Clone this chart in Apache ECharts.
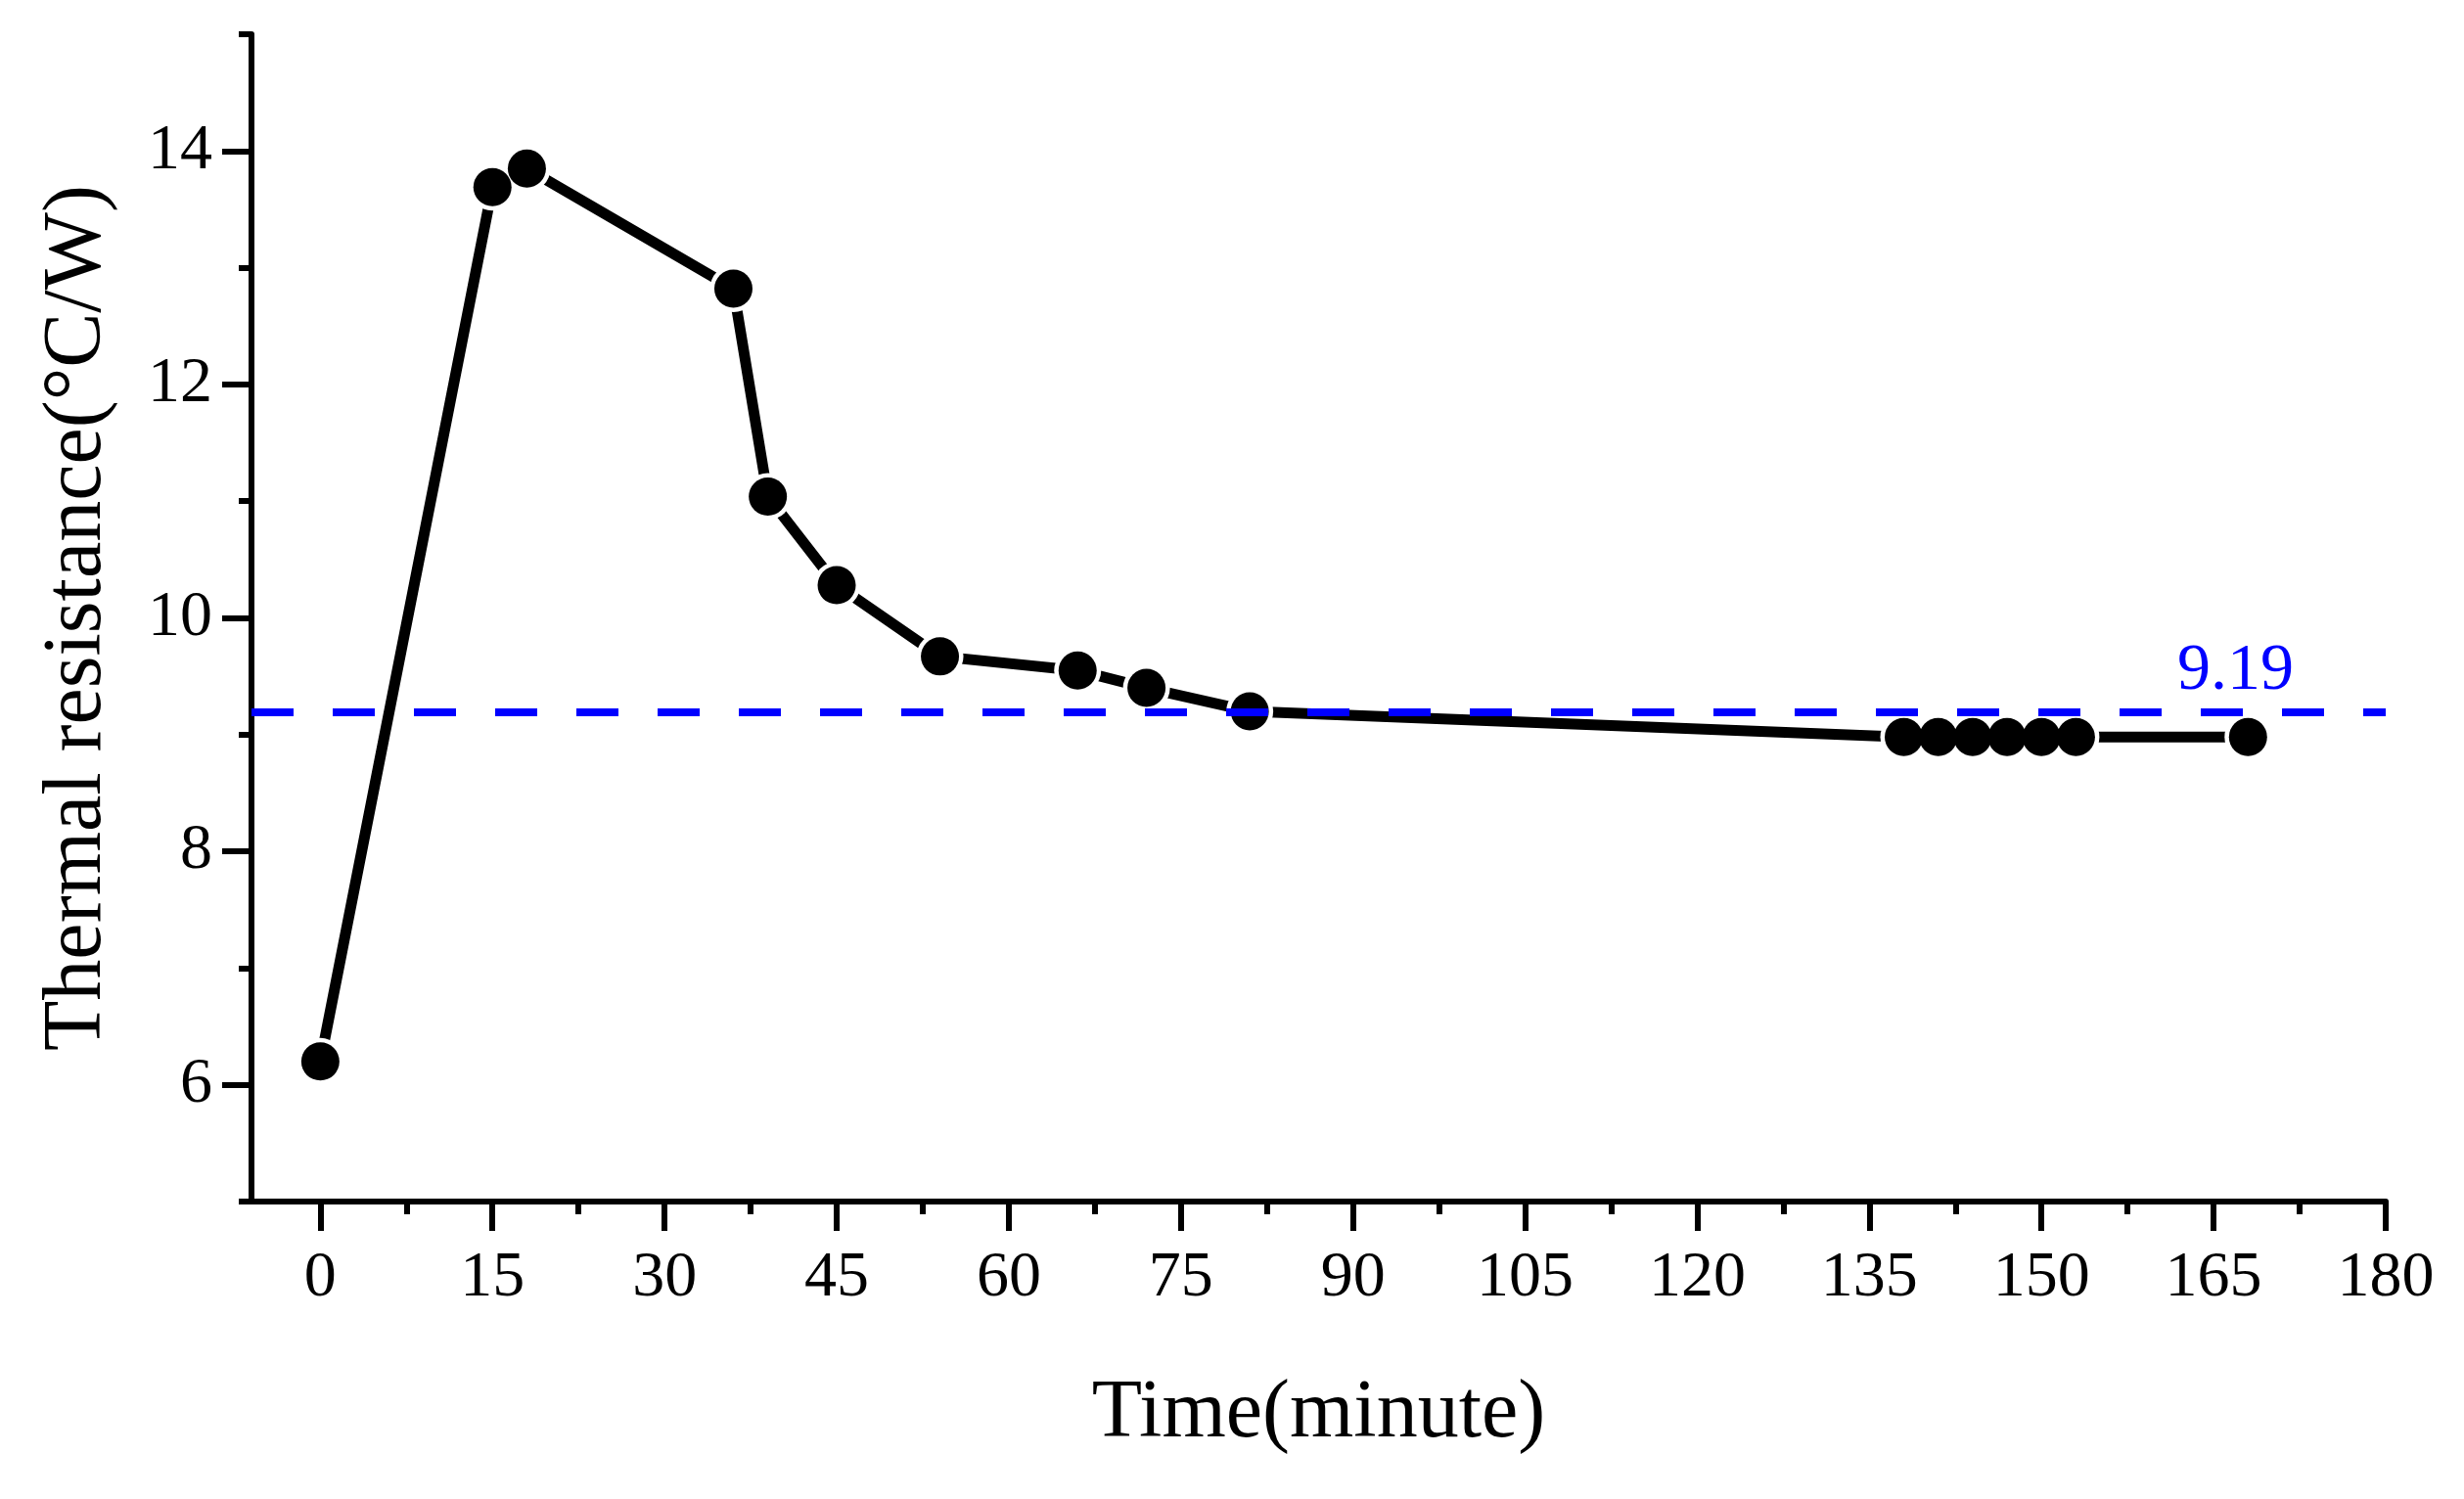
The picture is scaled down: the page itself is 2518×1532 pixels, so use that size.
<!DOCTYPE html>
<html>
<head>
<meta charset="utf-8">
<script src="https://cdn.jsdelivr.net/npm/echarts@6/dist/echarts.min.js"></script>
<style>
  html, body { margin: 0; padding: 0; background: #fff; }
  #chart { width: 2518px; height: 1532px; }
</style>
</head>
<body>
<div id="chart"></div>
<script>
// data
const timeMinutes = [0, 15, 18, 36, 39, 45, 54, 66, 72, 81, 138, 141, 144, 147, 150, 153, 168]
const resistance = [6.20, 13.69, 13.85, 12.82, 11.04, 10.28, 9.67, 9.55, 9.40, 9.20, 8.98, 8.98, 8.98, 8.98, 8.98, 8.98, 8.98]
const steadyValue = 9.19

// ticks
const xMajorTicks = [0, 15, 30, 45, 60, 75, 90, 105, 120, 135, 150, 165, 180]
const xMinorTicks = [7.5, 22.5, 37.5, 52.5, 67.5, 82.5, 97.5, 112.5, 127.5, 142.5, 157.5, 172.5]
const yMajorTicks = [6, 8, 10, 12, 14]
const yMinorTicks = [5, 7, 9, 11, 13, 15]

const font = '"Liberation Serif", "Times New Roman", serif'

const points = timeMinutes.map((t, i) => [t, resistance[i]])

const chart = echarts.init(document.getElementById('chart'))

const axisLine = { show: true, onZero: false, lineStyle: { color: '#000', width: 6 } }

const option = {
    backgroundColor: '#fff',
    animation: false,
    grid: { left: 257, right: 80, top: 35, bottom: 304, containLabel: false },
    xAxis: [
        {
            type: 'value', min: -6, max: 180, position: 'bottom',
            axisLine: axisLine,
            axisTick: { show: true, inside: false, length: 30, customValues: xMajorTicks, lineStyle: { color: '#000', width: 6 } },
            axisLabel: { show: true, customValues: xMajorTicks, margin: 46, color: '#000', fontSize: 66, fontFamily: font },
            splitLine: { show: false },
            name: 'Time(minute)', nameLocation: 'middle', nameGap: 176,
            nameTextStyle: { color: '#000', fontSize: 84, fontFamily: font }
        },
        {
            type: 'value', min: -6, max: 180, position: 'bottom',
            axisLine: { show: false, onZero: false },
            axisTick: { show: true, length: 13, customValues: xMinorTicks, lineStyle: { color: '#000', width: 6 } },
            axisLabel: { show: false },
            splitLine: { show: false }
        }
    ],
    yAxis: [
        {
            type: 'value', min: 5, max: 15, position: 'left',
            axisLine: axisLine,
            axisTick: { show: true, length: 30, customValues: yMajorTicks, lineStyle: { color: '#000', width: 6 } },
            axisLabel: { show: true, customValues: yMajorTicks, margin: 40, color: '#000', fontSize: 66, fontFamily: font },
            splitLine: { show: false },
            name: 'Thermal resistance(°C/W)', nameLocation: 'middle', nameGap: 135, nameRotate: 90,
            nameTextStyle: { color: '#000', fontSize: 84, fontFamily: font }
        },
        {
            type: 'value', min: 5, max: 15, position: 'left',
            axisLine: { show: false, onZero: false },
            axisTick: { show: true, length: 13, customValues: yMinorTicks, lineStyle: { color: '#000', width: 6 } },
            axisLabel: { show: false },
            splitLine: { show: false }
        }
    ],
    series: [
        // line with white halos so the segments stop short of the dots
        {
            type: 'line', xAxisIndex: 0, yAxisIndex: 0, data: points,
            symbol: 'circle', symbolSize: 48, showSymbol: true,
            itemStyle: { color: '#fff', borderWidth: 0, opacity: 1 },
            lineStyle: { color: '#000', width: 11, cap: 'round' },
            z: 2, silent: true
        },
        // the dots
        {
            type: 'scatter', xAxisIndex: 0, yAxisIndex: 0, data: points,
            symbol: 'circle', symbolSize: 39,
            itemStyle: { color: '#000', opacity: 1, borderWidth: 0 },
            z: 3, silent: true
        },
        // steady value
        {
            type: 'line', xAxisIndex: 0, yAxisIndex: 0, data: points,
            showSymbol: false, lineStyle: { width: 0, opacity: 0 },
            z: 5, silent: true,
            markLine: {
                silent: true, symbol: ['none', 'none'],
                lineStyle: { color: '#0000ff', width: 8, type: [43, 40] },
                label: {
                    show: true, position: 'insideEndTop', formatter: String(steadyValue),
                    color: '#0000ff', fontSize: 68, fontFamily: font,
                    distance: 8, padding: [0, 86, 0, 0]
                },
                data: [{ yAxis: steadyValue }]
            }
        }
    ]
}

chart.setOption(option)
</script>
</body>
</html>
